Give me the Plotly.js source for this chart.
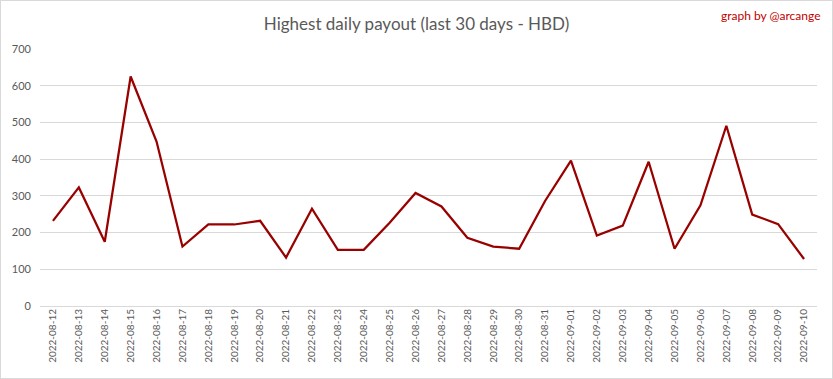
<!DOCTYPE html>
<html>
<head>
<meta charset="utf-8">
<script src="https://cdn.plot.ly/plotly-3.0.1.min.js"></script>
<style>
html,body{margin:0;padding:0;background:#fff;}
#wrap{position:relative;width:833px;height:379px;}
#frame{position:absolute;left:0;top:0;width:833px;height:379px;box-sizing:border-box;border:1px solid #d9d9d9;pointer-events:none;}
</style>
</head>
<body>
<div id="wrap"><div id="chart"></div><div id="frame"></div></div>
<script>
const dates = ["2022-08-12","2022-08-13","2022-08-14","2022-08-15","2022-08-16","2022-08-17","2022-08-18","2022-08-19","2022-08-20","2022-08-21","2022-08-22","2022-08-23","2022-08-24","2022-08-25","2022-08-26","2022-08-27","2022-08-28","2022-08-29","2022-08-30","2022-08-31","2022-09-01","2022-09-02","2022-09-03","2022-09-04","2022-09-05","2022-09-06","2022-09-07","2022-09-08","2022-09-09","2022-09-10"];
const payout = [232,323,175,625,448,162,222,222,232,132,265,153,153,227,308,271,186,162,156,286,396,192,219,393,156,274,491,249,223,128];
const yTicks = [0,100,200,300,400,500,600,700];

const trace = {
  x: dates, y: payout, type: "scatter", mode: "lines",
  line: {color: "#990000", width: 2.25},
  hoverinfo: "x+y"
};
const layout = {
  width: 833, height: 379,
  margin: {l: 40, r: 16, t: 49, b: 73},
  paper_bgcolor: "#ffffff", plot_bgcolor: "#ffffff",
  font: {family: "Lato, 'Open Sans', sans-serif", color: "#595959"},
  title: {text: "Highest daily payout (last 30 days - HBD)", x: 0.5, xanchor: "center", y: 0.937, yanchor: "middle",
          font: {size: 17, color: "#595959", family: "Lato, sans-serif"}},
  showlegend: false,
  xaxis: {type: "category", tickangle: -90, tickfont: {size: 10, color: "#595959"},
          showgrid: false, showline: false, zeroline: false, ticks: "", range: [-0.5, dates.length - 0.5], fixedrange: true},
  yaxis: {range: [0, 700], tickvals: yTicks, ticktext: yTicks.map(String), tickfont: {size: 11, color: "#595959"},
          showgrid: true, gridcolor: "#d9d9d9", gridwidth: 1, zeroline: true, zerolinecolor: "#d9d9d9",
          showline: false, ticks: "", ticklabelstandoff: 8, fixedrange: true},
  annotations: [{text: "graph by @arcange", xref: "paper", yref: "paper", x: 1.008, y: 1.132, xanchor: "right", yanchor: "middle",
                 showarrow: false, font: {size: 12, color: "#c00000", family: "Lato, sans-serif"}}]
};
Plotly.newPlot("chart", [trace], layout, {displayModeBar: false, staticPlot: true});
</script>
</body>
</html>
